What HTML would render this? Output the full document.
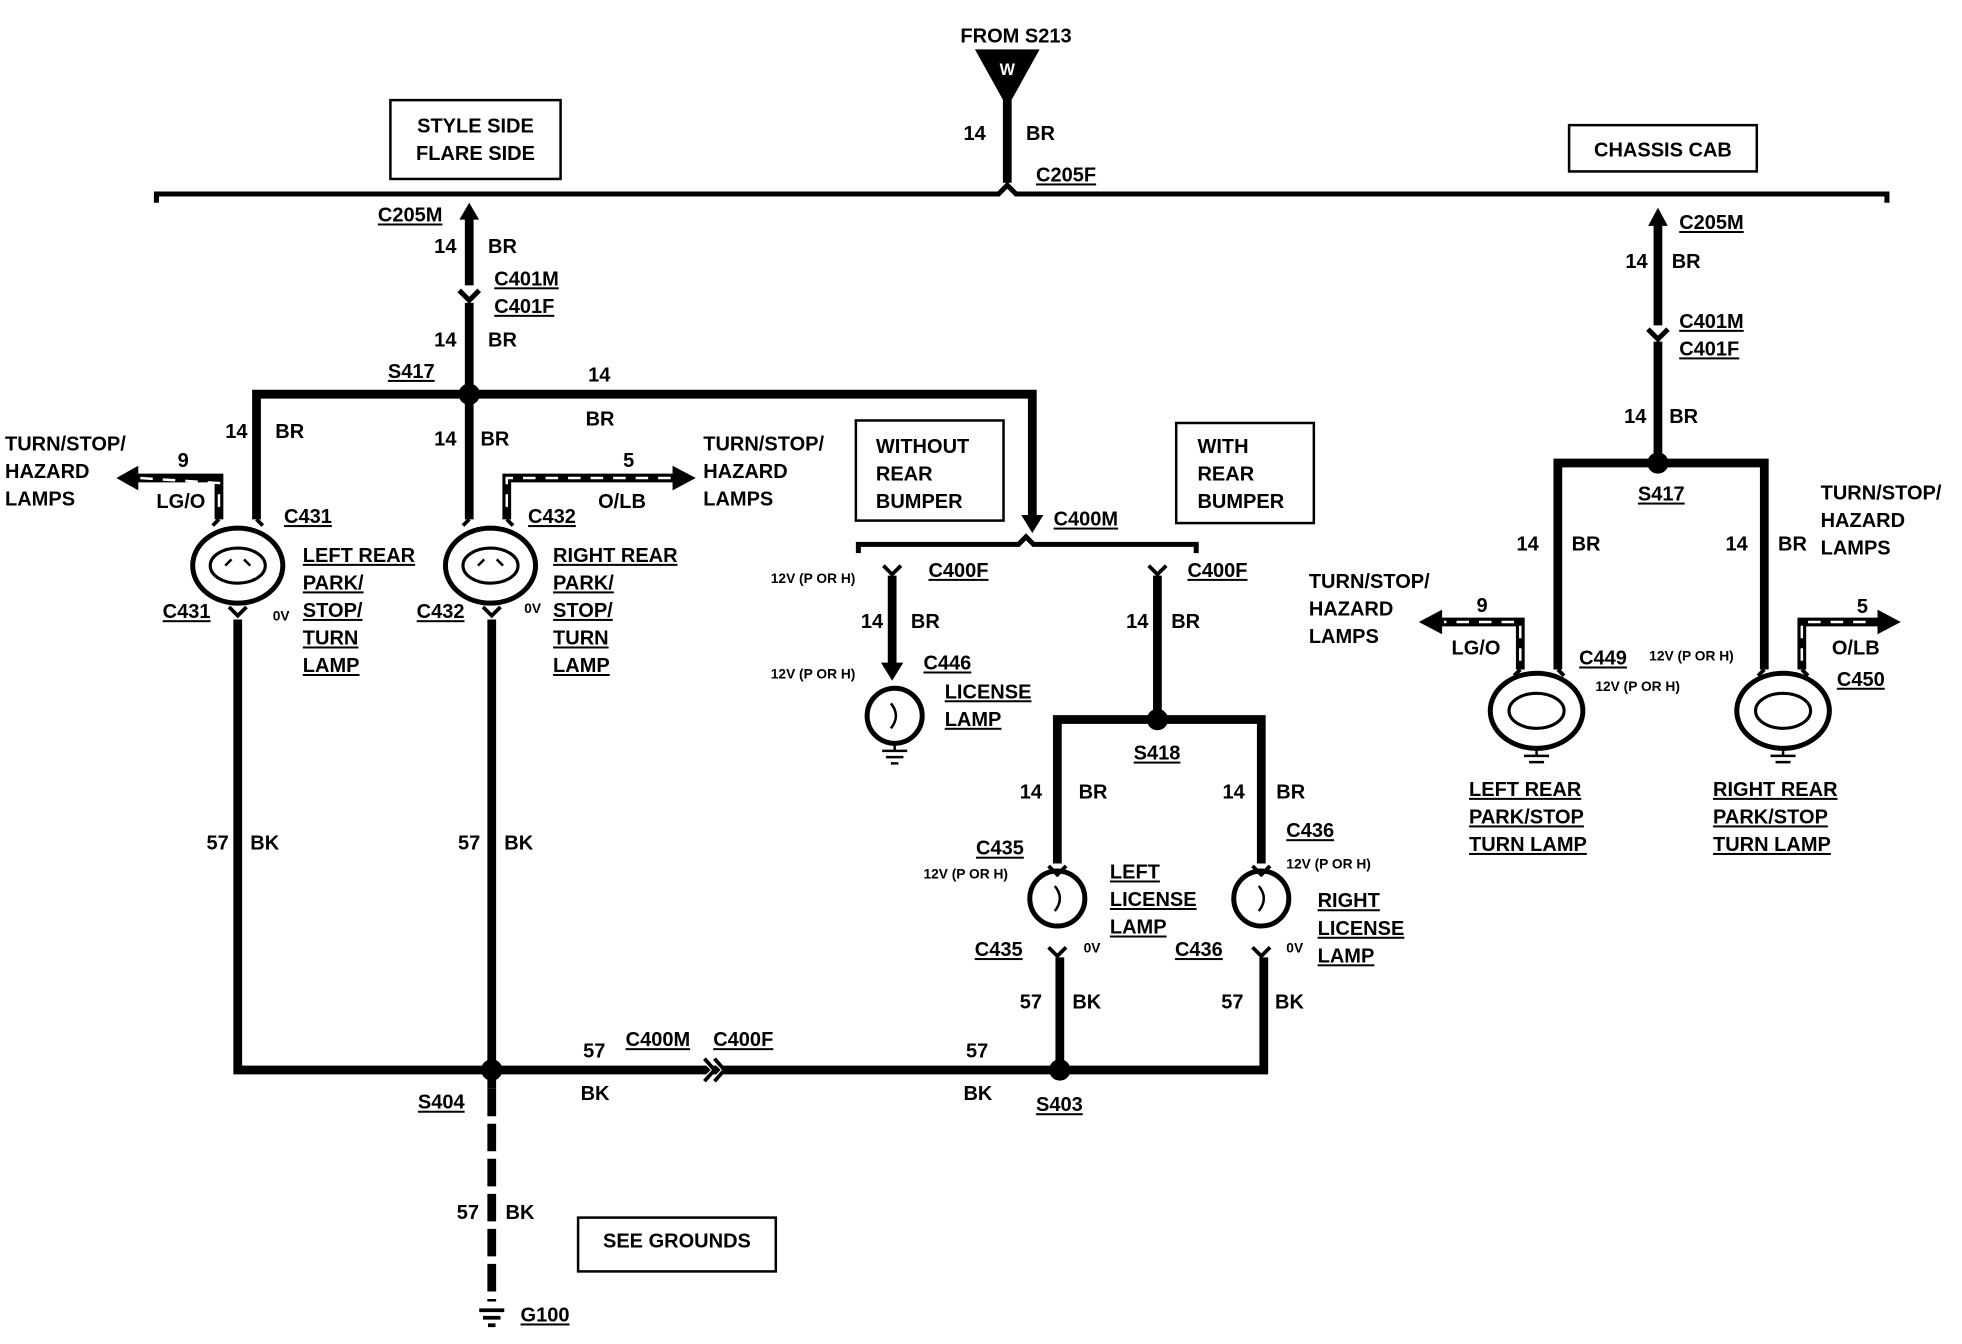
<!DOCTYPE html>
<html><head><meta charset="utf-8"><style>
html,body{margin:0;padding:0;background:#fff;}
svg{display:block;}
text{font-family:"Liberation Sans",sans-serif;font-weight:bold;font-size:16px;fill:#000;}
.s{font-size:11px;}
</style></head><body>
<svg width="1962" height="1344" viewBox="0 0 1568 1074" preserveAspectRatio="none" xmlns="http://www.w3.org/2000/svg">
<defs>
<marker id="ah" markerWidth="4" markerHeight="4" refX="2" refY="2" orient="auto" markerUnits="strokeWidth"><path d="M0,0 L4,2 L0,4 Z" fill="#000"/></marker>
</defs>
<g fill="none" stroke="#000" stroke-linecap="butt">
<!-- top bus -->
<path d="M125,162 L125,155 L798,155 L805,148 L812,155 L1508,155 L1508,162" stroke-width="4"/>
<polygon points="780,40 830,40 805,85" fill="#000"/>
<line x1="805" y1="80" x2="805" y2="146" stroke-width="7"/>
<rect x="312" y="80" width="136" height="63" stroke-width="2"/>
<rect x="1254" y="100" width="150" height="37" stroke-width="2"/>
<rect x="684" y="336" width="118" height="80" stroke-width="2"/>
<rect x="940" y="338" width="110" height="80" stroke-width="2"/>
<rect x="462" y="973" width="158" height="43" stroke-width="2"/>
<!-- left main -->
<line x1="375" y1="172" x2="375" y2="228" stroke-width="7"/>
<polygon points="368,175 375,163 382,175" fill="#000"/>
<path d="M367,232 L375,240 L383,232" stroke-width="4"/>
<line x1="375" y1="242" x2="375" y2="315" stroke-width="7"/>
<path d="M205,415 L205,315 L825,315 L825,412" stroke-width="7"/>
<polygon points="817,412 825,425 833,412" fill="#000"/>
<line x1="375" y1="315" x2="375" y2="415" stroke-width="7"/>
<circle cx="375" cy="315" r="8" fill="#000"/>
<!-- left lamps -->
<path d="M170,420 L175,415 M210,420 L205,415 M370,420 L375,415 M410,420 L405,415" stroke-width="3"/>
<ellipse cx="190" cy="452" rx="36" ry="30" stroke-width="4"/>
<ellipse cx="190" cy="452" rx="22" ry="14" stroke-width="2.5"/>
<ellipse cx="392" cy="452" rx="36" ry="30" stroke-width="4"/>
<ellipse cx="392" cy="452" rx="22" ry="14" stroke-width="2.5"/>
<path d="M180,452 l5,-5 M200,452 l-5,-5 M382,452 l5,-5 M402,452 l-5,-5" stroke-width="2"/>
<!-- striped arrows -->
<path d="M175,415 L175,382 L108,382" stroke-width="7"/>
<path d="M175,405 L175,386 L112,382" stroke="#fff" stroke-width="2" stroke-dasharray="10,8"/>
<polygon points="110,373 94,382 110,391" fill="#000"/>
<path d="M405,415 L405,382 L540,382" stroke-width="7"/>
<path d="M405,405 L405,382 L536,382" stroke="#fff" stroke-width="2" stroke-dasharray="10,8"/>
<polygon points="538,373 555,382 538,391" fill="#000"/>
<!-- bottom grounds -->
<path d="M183,485 L190,492 L197,485 M386,485 L393,492 L400,485" stroke-width="3"/>
<path d="M190,495 L190,855 L1010,855 L1010,765" stroke-width="7"/>
<line x1="393" y1="495" x2="393" y2="870" stroke-width="7"/>
<line x1="393" y1="870" x2="393" y2="1040" stroke-width="7" stroke-dasharray="22,6"/>
<path d="M383,1047 L403,1047 M386,1053 L400,1053 M390,1059 L396,1059" stroke-width="3"/>
<circle cx="393" cy="855" r="8" fill="#000"/>
<circle cx="847" cy="855" r="8" fill="#000"/>
<path d="M562,847 L570,855 L562,863 M570,847 L578,855 L570,863" stroke-width="3" stroke="#fff"/>
<path d="M563,846 L571,855 L563,864 M571,846 L579,855 L571,864" stroke-width="3"/>
<line x1="847" y1="765" x2="847" y2="855" stroke-width="7"/>
<!-- C400M brace -->
<path d="M686,442 L686,435 L814,435 L820,429 L826,435 L956,435 L956,442" stroke-width="4"/>
<path d="M706,452 L713,459 L720,452 M918,452 L925,459 L932,452" stroke-width="3"/>
<line x1="713" y1="460" x2="713" y2="532" stroke-width="7"/>
<polygon points="705,530 713,543 721,530" fill="#000"/>
<circle cx="715" cy="572" r="22" stroke-width="4"/>
<path d="M715,594 L715,600 M705,600 L725,600 M708,605 L722,605 M712,610 L718,610" stroke-width="2"/>
<path d="M712,562 q8,10 0,20" stroke-width="2"/>
<line x1="925" y1="460" x2="925" y2="575" stroke-width="7"/>
<path d="M845,690 L845,575 L1008,575 L1008,690" stroke-width="7"/>
<circle cx="925" cy="575" r="8" fill="#000"/>
<path d="M838,692 L845,699 L852,692 M1001,692 L1008,699 L1015,692" stroke-width="3"/>
<circle cx="845" cy="718" r="22" stroke-width="4"/>
<circle cx="1008" cy="718" r="22" stroke-width="4"/>
<path d="M843,708 q8,10 0,20 M1006,708 q8,10 0,20" stroke-width="2"/>
<path d="M838,757 L845,764 L852,757 M1001,757 L1008,764 L1015,757" stroke-width="3"/>
<!-- right side -->
<line x1="1325" y1="178" x2="1325" y2="260" stroke-width="7"/>
<polygon points="1318,180 1325,167 1332,180" fill="#000"/>
<path d="M1317,263 L1325,271 L1333,263" stroke-width="4"/>
<line x1="1325" y1="273" x2="1325" y2="370" stroke-width="7"/>
<path d="M1245,535 L1245,370 L1410,370 L1410,535" stroke-width="7"/>
<circle cx="1325" cy="370" r="8" fill="#000"/>
<path d="M1215,535 L1215,497 L1150,497" stroke-width="7"/>
<path d="M1215,528 L1215,497 L1154,497" stroke="#fff" stroke-width="2" stroke-dasharray="10,8"/>
<polygon points="1152,488 1135,497 1152,506" fill="#000"/>
<path d="M1440,535 L1440,497 L1503,497" stroke-width="7"/>
<path d="M1440,528 L1440,497 L1499,497" stroke="#fff" stroke-width="2" stroke-dasharray="10,8"/>
<polygon points="1501,488 1518,497 1501,506" fill="#000"/>
<path d="M1210,540 L1215,535 M1250,540 L1245,535 M1405,540 L1410,535 M1445,540 L1440,535" stroke-width="3"/>
<ellipse cx="1228" cy="568" rx="37" ry="30" stroke-width="4"/>
<ellipse cx="1228" cy="568" rx="22" ry="14" stroke-width="2.5"/>
<ellipse cx="1425" cy="568" rx="37" ry="30" stroke-width="4"/>
<ellipse cx="1425" cy="568" rx="22" ry="14" stroke-width="2.5"/>
<path d="M1228,598 L1228,604 M1218,604 L1238,604 M1222,609 L1234,609 M1425,598 L1425,604 M1415,604 L1435,604 M1419,609 L1431,609" stroke-width="2"/>
</g>
<text x="812" y="34" text-anchor="middle">FROM S213</text>
<text x="805" y="60" text-anchor="middle" style="fill:#fff;font-size:13px">W</text>
<text x="770" y="112">14</text><text x="820" y="112">BR</text>
<text x="828" y="145" text-decoration="underline">C205F</text>
<text x="380" y="106" text-anchor="middle">STYLE SIDE</text>
<text x="380" y="128" text-anchor="middle">FLARE SIDE</text>
<text x="1329" y="125" text-anchor="middle">CHASSIS CAB</text>
<text x="302" y="177" text-decoration="underline">C205M</text>
<text x="347" y="202">14</text><text x="390" y="202">BR</text>
<text x="395" y="228" text-decoration="underline">C401M</text>
<text x="395" y="250" text-decoration="underline">C401F</text>
<text x="347" y="277">14</text><text x="390" y="277">BR</text>
<text x="310" y="302" text-decoration="underline">S417</text>
<text x="470" y="305">14</text><text x="468" y="340">BR</text>
<text x="180" y="350">14</text><text x="220" y="350">BR</text>
<text x="347" y="356">14</text><text x="384" y="356">BR</text>
<text x="4" y="360">TURN/STOP/</text><text x="4" y="382">HAZARD</text><text x="4" y="404">LAMPS</text>
<text x="142" y="373">9</text><text x="125" y="406">LG/O</text>
<text x="498" y="373">5</text><text x="478" y="406">O/LB</text>
<text x="562" y="360">TURN/STOP/</text><text x="562" y="382">HAZARD</text><text x="562" y="404">LAMPS</text>
<text x="227" y="418" text-decoration="underline">C431</text>
<text x="422" y="418" text-decoration="underline">C432</text>
<text x="242" y="449" text-decoration="underline">LEFT REAR</text>
<text x="242" y="471" text-decoration="underline">PARK/</text>
<text x="242" y="493" text-decoration="underline">STOP/</text>
<text x="242" y="515" text-decoration="underline">TURN</text>
<text x="242" y="537" text-decoration="underline">LAMP</text>
<text x="442" y="449" text-decoration="underline">RIGHT REAR</text>
<text x="442" y="471" text-decoration="underline">PARK/</text>
<text x="442" y="493" text-decoration="underline">STOP/</text>
<text x="442" y="515" text-decoration="underline">TURN</text>
<text x="442" y="537" text-decoration="underline">LAMP</text>
<text x="130" y="494" text-decoration="underline">C431</text>
<text x="333" y="494" text-decoration="underline">C432</text>
<text x="218" y="496" class="s">0V</text><text x="419" y="490" class="s">0V</text>
<text x="165" y="679">57</text><text x="200" y="679">BK</text>
<text x="366" y="679">57</text><text x="403" y="679">BK</text>
<text x="700" y="362">WITHOUT</text><text x="700" y="384">REAR</text><text x="700" y="406">BUMPER</text>
<text x="957" y="362">WITH</text><text x="957" y="384">REAR</text><text x="957" y="406">BUMPER</text>
<text x="842" y="420" text-decoration="underline">C400M</text>
<text x="742" y="461" text-decoration="underline">C400F</text>
<text x="949" y="461" text-decoration="underline">C400F</text>
<text x="616" y="466" class="s">12V (P OR H)</text>
<text x="688" y="502">14</text><text x="728" y="502">BR</text>
<text x="900" y="502">14</text><text x="936" y="502">BR</text>
<text x="738" y="535" text-decoration="underline">C446</text>
<text x="616" y="542" class="s">12V (P OR H)</text>
<text x="755" y="558" text-decoration="underline">LICENSE</text>
<text x="755" y="580" text-decoration="underline">LAMP</text>
<text x="906" y="607" text-decoration="underline">S418</text>
<text x="815" y="638">14</text><text x="862" y="638">BR</text>
<text x="977" y="638">14</text><text x="1020" y="638">BR</text>
<text x="780" y="683" text-decoration="underline">C435</text>
<text x="1028" y="669" text-decoration="underline">C436</text>
<text x="738" y="702" class="s">12V (P OR H)</text>
<text x="1028" y="694" class="s">12V (P OR H)</text>
<text x="887" y="702" text-decoration="underline">LEFT</text>
<text x="887" y="724" text-decoration="underline">LICENSE</text>
<text x="887" y="746" text-decoration="underline">LAMP</text>
<text x="1053" y="725" text-decoration="underline">RIGHT</text>
<text x="1053" y="747" text-decoration="underline">LICENSE</text>
<text x="1053" y="769" text-decoration="underline">LAMP</text>
<text x="779" y="764" text-decoration="underline">C435</text>
<text x="939" y="764" text-decoration="underline">C436</text>
<text x="866" y="761" class="s">0V</text><text x="1028" y="761" class="s">0V</text>
<text x="815" y="806">57</text><text x="857" y="806">BK</text>
<text x="976" y="806">57</text><text x="1019" y="806">BK</text>
<text x="466" y="845">57</text><text x="500" y="836" text-decoration="underline">C400M</text>
<text x="570" y="836" text-decoration="underline">C400F</text>
<text x="772" y="845">57</text>
<text x="464" y="879">BK</text><text x="770" y="879">BK</text>
<text x="334" y="886" text-decoration="underline">S404</text>
<text x="828" y="888" text-decoration="underline">S403</text>
<text x="365" y="974">57</text><text x="404" y="974">BK</text>
<text x="541" y="997" text-anchor="middle">SEE GROUNDS</text>
<text x="416" y="1056" text-decoration="underline">G100</text>
<text x="1342" y="183" text-decoration="underline">C205M</text>
<text x="1299" y="214">14</text><text x="1336" y="214">BR</text>
<text x="1342" y="262" text-decoration="underline">C401M</text>
<text x="1342" y="284" text-decoration="underline">C401F</text>
<text x="1298" y="338">14</text><text x="1334" y="338">BR</text>
<text x="1309" y="400" text-decoration="underline">S417</text>
<text x="1455" y="399">TURN/STOP/</text><text x="1455" y="421">HAZARD</text><text x="1455" y="443">LAMPS</text>
<text x="1212" y="440">14</text><text x="1256" y="440">BR</text>
<text x="1379" y="440">14</text><text x="1421" y="440">BR</text>
<text x="1046" y="470">TURN/STOP/</text><text x="1046" y="492">HAZARD</text><text x="1046" y="514">LAMPS</text>
<text x="1180" y="489">9</text><text x="1160" y="523">LG/O</text>
<text x="1484" y="490">5</text><text x="1464" y="523">O/LB</text>
<text x="1262" y="531" text-decoration="underline">C449</text>
<text x="1318" y="528" class="s">12V (P OR H)</text>
<text x="1275" y="552" class="s">12V  (P OR H)</text>
<text x="1468" y="548" text-decoration="underline">C450</text>
<text x="1174" y="636" text-decoration="underline">LEFT REAR</text>
<text x="1174" y="658" text-decoration="underline">PARK/STOP</text>
<text x="1174" y="680" text-decoration="underline">TURN LAMP</text>
<text x="1369" y="636" text-decoration="underline">RIGHT REAR</text>
<text x="1369" y="658" text-decoration="underline">PARK/STOP</text>
<text x="1369" y="680" text-decoration="underline">TURN LAMP</text>
</svg>
</body></html>
